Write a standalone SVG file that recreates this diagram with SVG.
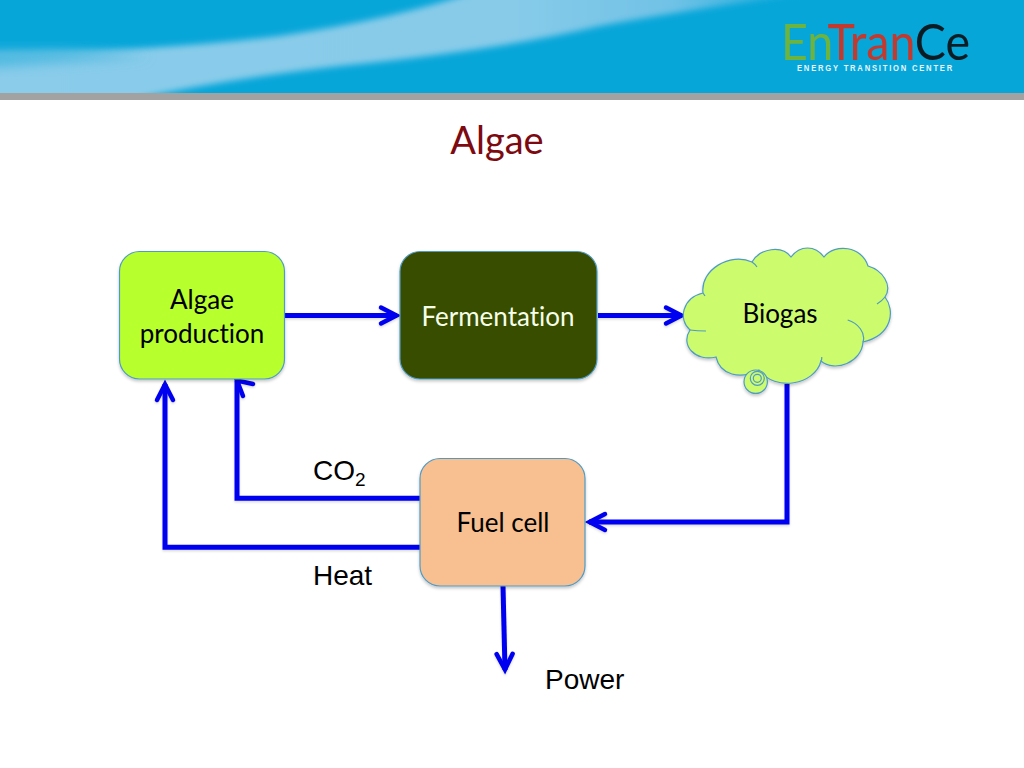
<svg xmlns="http://www.w3.org/2000/svg" width="1024" height="768" viewBox="0 0 1024 768">
<defs>
<linearGradient id="band" gradientUnits="userSpaceOnUse" x1="0" y1="0" x2="820" y2="0"><stop offset="0" stop-color="#8accea"/><stop offset="0.62" stop-color="#88cbe9"/><stop offset="0.82" stop-color="#70c2e6"/><stop offset="1" stop-color="#0ba8db"/></linearGradient>
<clipPath id="bannerclip"><rect width="1024" height="94"/></clipPath>
<filter id="soft" x="-10%" y="-50%" width="120%" height="200%"><feGaussianBlur stdDeviation="3"/></filter>
<filter id="softer" x="-10%" y="-50%" width="120%" height="200%"><feGaussianBlur stdDeviation="6"/></filter>
<filter id="shadow" x="-10%" y="-10%" width="120%" height="125%"><feDropShadow dx="0" dy="2" stdDeviation="1.500" flood-color="#000" flood-opacity="0.22"/></filter>
<filter id="lineshadow" x="-10%" y="-10%" width="120%" height="120%"><feDropShadow dx="0" dy="1.500" stdDeviation="1" flood-color="#000" flood-opacity="0.15"/></filter>
<marker id="open" markerUnits="userSpaceOnUse" markerWidth="24" markerHeight="28" refX="19" refY="12" orient="auto" overflow="visible"><path d="M3 4 L18.500 12 L3 20" fill="none" stroke="#0000f0" stroke-width="4.500" stroke-linecap="round" stroke-linejoin="miter"/></marker>
</defs>
<style>
.node{stroke:#4f9bc4;stroke-width:1.2;filter:url(#shadow)}
.lbl{font-family:Lato,"Open Sans",sans-serif;font-size:26px;text-anchor:middle;fill:#000;font-variant-ligatures:none}
.ar{font-family:"Liberation Sans",Arial,sans-serif;font-size:28px;fill:#000}
.c{fill:none;stroke:#0000f0;stroke-width:5}
.m{marker-end:url(#open)}
.b{fill:#ccfb6e;stroke:#4f9bc4;stroke-width:1.2}
.i{fill:none;stroke:#4f9bc4;stroke-width:1.2}
</style>
<rect width="1024" height="768" fill="#fff"/>
<g id="banner">
<rect width="1024" height="94" fill="#07a6d9"/>
<g clip-path="url(#bannerclip)">
<path d="M-20 54 Q150 52 280 36 Q400 18 480 -10 L830 -10 Q700 8 600 26 Q500 50 340 66 Q220 80 130 100 L-20 100Z" fill="url(#band)" filter="url(#soft)"/>
<path d="M-20 50 L60 50 L150 56 L-20 68Z" fill="#4db9e0" filter="url(#softer)"/>
</g>
<rect y="93" width="1024" height="7" fill="#a2a2a2"/>
<text x="781" y="59.500" font-family="Lato,sans-serif" font-size="51" textLength="189" lengthAdjust="spacingAndGlyphs"><tspan fill="#6db33f">En</tspan><tspan fill="#c4392d">Tran</tspan><tspan fill="#0b1d24">Ce</tspan></text>
<text transform="translate(797 70.500) scale(0.8 1)" font-family="Liberation Sans,sans-serif" font-size="9.500" font-weight="700" textLength="194" lengthAdjust="spacing" fill="#e8f6fb">ENERGY TRANSITION CENTER</text>
</g>
<text id="title" x="497" y="154" font-family="Lato,Open Sans,sans-serif" font-size="38" text-anchor="middle" fill="#7c0a10">Algae</text>
<g id="connectors" filter="url(#lineshadow)">
<path class="c m" d="M285 315.500 H397"/>
<path class="c m" d="M598 315.500 H682"/>
<path class="c m" d="M787 384 V522 H589"/>
<path class="c" d="M420 498.300 H237 V381"/>
<path class="c" d="M253 384 L237 380.500 L243 396" stroke-linecap="round" style="stroke-width:4.5"/>
<path class="c m" d="M420 547.300 H165 V384"/>
<path class="c m" d="M503 586 L505 670"/>
</g>
<g id="algae-production">
<rect class="node" x="119.500" y="251.500" width="165" height="127.500" rx="20" fill="#b8ff2e"/>
<text class="lbl" x="202" y="308.500">Algae</text>
<text class="lbl" x="202" y="342.500">production</text>
</g>
<g id="fermentation">
<rect class="node" x="400" y="251.500" width="197" height="127.500" rx="20" fill="#374d00"/>
<text class="lbl" x="498" y="325.500" style="fill:#f6ffe8">Fermentation</text>
</g>
<g id="biogas">
<g style="filter:url(#shadow)">
<path class="b" d="M703 293 C700 270 730 252 752 262 C760 248 782 245 791 257 C800 245 815 245 824 257 C835 243 862 246 868 266 C882 270 893 285 885 297 C895 310 893 335 863 342 C862 362 835 373 821 361 C815 385 775 392 759 370 C740 380 720 375 716 357 C695 362 680 345 690 330 C678 320 682 298 703 293 Z"/>
<circle class="b" cx="755.700" cy="381.700" r="11.700"/>
</g>
<circle class="i" cx="757.300" cy="378.300" r="7"/>
<circle class="i" cx="757.300" cy="378.300" r="4"/>
<path class="i" d="M752 262 Q755 264 757 267 M690 330 Q697 331 706 331 M847.700 320 C858 323 866 333 863 342 M885 297 Q882 301 877 304 M821 361 Q822 359 821.700 357 M703 293 L705 296"/>
<text class="lbl" x="780" y="322.500">Biogas</text>
</g>
<g id="fuel-cell">
<rect class="node" x="420" y="458.500" width="165" height="127.500" rx="20" fill="#f8bf90"/>
<text class="lbl" x="503" y="531.500">Fuel cell</text>
</g>
<g id="labels">
<text class="ar" x="313" y="480">CO<tspan font-size="19" dy="6">2</tspan></text>
<text class="ar" x="313" y="585">Heat</text>
<text class="ar" x="545" y="689">Power</text>
</g>
</svg>
